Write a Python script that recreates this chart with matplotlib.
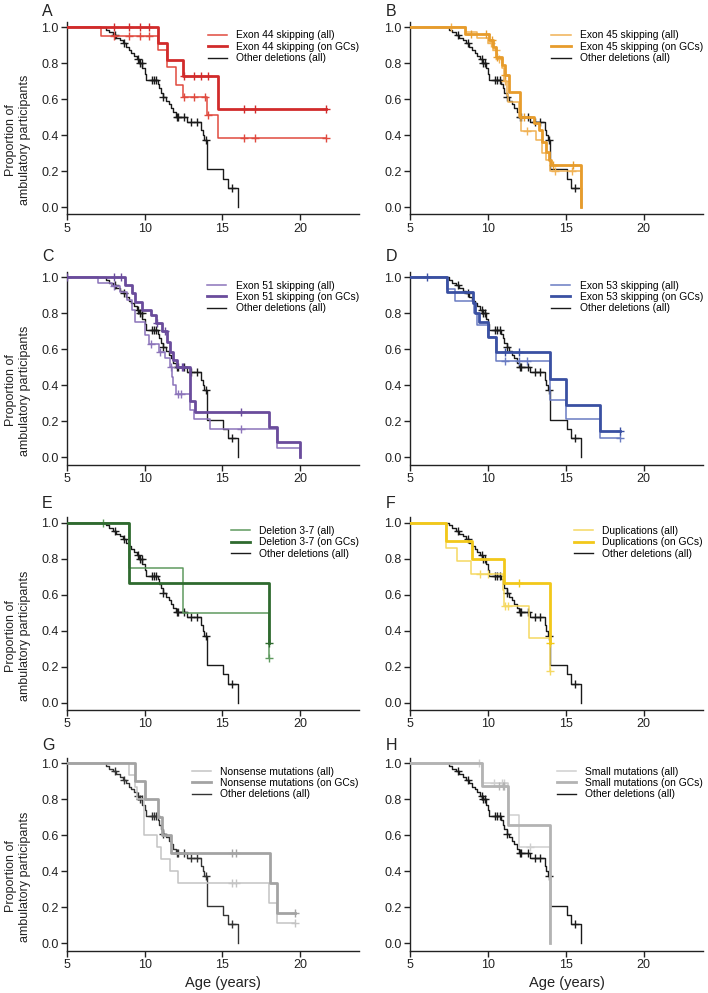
import numpy as np
import matplotlib
matplotlib.use('Agg')
import matplotlib.pyplot as plt

plt.rcParams['font.family'] = ['Liberation Sans', 'DejaVu Sans']

# ---------------- data (Kaplan-Meier step curves) ----------------
# reference group: Other deletions (all)
other_t = [7.5, 7.7, 7.95, 8.15, 8.4, 8.6, 8.8, 9.0, 9.15, 9.3, 9.5, 9.65, 9.85, 10.0, 10.1,
           10.85, 10.95, 11.05, 11.2, 11.35, 11.55, 11.7, 11.85, 12.0, 12.7, 13.65, 13.75, 13.85,
           14.0, 15.05, 15.35, 16.0]
other_s = [0.985, 0.97, 0.955, 0.94, 0.925, 0.91, 0.89, 0.87, 0.855, 0.84, 0.82, 0.80, 0.77, 0.74, 0.706,
           0.685, 0.66, 0.635, 0.61, 0.59, 0.57, 0.55, 0.525, 0.502, 0.474, 0.43, 0.40, 0.372,
           0.209, 0.157, 0.105, 0.0]
other_c = [8.1, 8.7, 9.6, 9.7, 9.8, 10.45, 10.6, 10.75, 11.2, 12.05, 12.15, 12.55, 13.0, 13.35, 13.95, 15.6]
other_end = 16.0

# A: Exon 44 skipping
ex44_all_t = [7.2, 10.85, 11.45, 12.0, 12.45, 14.0, 14.75]
ex44_all_s = [0.952, 0.87, 0.78, 0.678, 0.609, 0.509, 0.383]
ex44_all_c = [8.0, 9.0, 9.7, 10.3, 12.55, 13.2, 13.9, 14.1, 16.4, 17.1, 21.7]
ex44_all_end = 21.7
ex44_gc_t = [10.85, 11.45, 12.45, 14.75]
ex44_gc_s = [0.909, 0.818, 0.727, 0.545]
ex44_gc_c = [8.0, 9.0, 9.7, 10.3, 12.55, 13.2, 13.65, 14.1, 16.4, 17.1, 21.7]
ex44_gc_end = 21.7

# B: Exon 45 skipping
ex45_all_t = [8.6, 9.3, 10.0, 10.3, 10.6, 10.9, 11.05, 11.2, 11.3, 12.0, 12.1, 13.1, 13.45, 13.7, 14.0, 16.0]
ex45_all_s = [0.97, 0.94, 0.91, 0.87, 0.82, 0.77, 0.70, 0.62, 0.585, 0.50, 0.42, 0.37, 0.30, 0.26, 0.20, 0.0]
ex45_all_c = [7.6, 10.2, 10.5, 10.7, 11.1, 12.5, 14.3, 15.4]
ex45_all_end = 16.0
ex45_gc_t = [8.5, 10.05, 10.3, 10.5, 10.9, 11.1, 11.35, 12.05, 12.95, 13.25, 13.45, 13.7, 13.9, 14.05, 16.0]
ex45_gc_s = [0.961, 0.928, 0.89, 0.835, 0.789, 0.733, 0.64, 0.50, 0.465, 0.428, 0.363, 0.307, 0.261, 0.233, 0.0]
ex45_gc_c = [8.9, 9.9, 10.25, 10.6, 11.1, 12.3, 14.2, 15.45]
ex45_gc_end = 16.0

# C: Exon 51 skipping
ex51_all_t = [7.0, 7.9, 8.4, 8.85, 9.2, 9.4, 10.0, 10.3, 10.9, 11.3, 11.6, 11.75, 11.85, 12.0, 12.9, 13.2,
              14.2, 18.5, 20.0]
ex51_all_s = [0.966, 0.95, 0.92, 0.874, 0.82, 0.754, 0.68, 0.63, 0.587, 0.55, 0.50, 0.448, 0.40, 0.352, 0.26,
              0.21, 0.158, 0.053, 0.0]
ex51_all_c = [8.0, 10.4, 11.0, 11.7, 12.15, 12.35, 16.2]
ex51_all_end = 20.0
ex51_gc_t = [8.75, 9.2, 9.4, 9.8, 10.4, 10.7, 11.1, 11.45, 11.65, 11.85, 12.05, 12.93, 13.25, 18.0, 18.5, 20.0]
ex51_gc_s = [0.957, 0.91, 0.864, 0.82, 0.79, 0.744, 0.70, 0.642, 0.586, 0.54, 0.504, 0.31, 0.254, 0.17, 0.085,
             0.0]
ex51_gc_c = [5.0, 8.0, 8.5, 10.8, 11.3, 12.4, 12.5, 16.2]
ex51_gc_end = 20.0

# D: Exon 53 skipping
ex53_all_t = [7.4, 7.9, 9.1, 9.3, 10.0, 10.5, 14.0, 15.0, 17.2]
ex53_all_s = [0.933, 0.867, 0.8, 0.733, 0.667, 0.533, 0.32, 0.213, 0.107]
ex53_all_c = [11.1, 12.0, 12.5, 18.5]
ex53_all_end = 18.5
ex53_gc_t = [7.4, 9.05, 9.2, 9.4, 10.0, 10.5, 14.0, 15.0, 17.2]
ex53_gc_s = [0.917, 0.856, 0.80, 0.75, 0.667, 0.583, 0.437, 0.291, 0.146]
ex53_gc_c = [6.1, 11.1, 12.0, 18.5]
ex53_gc_end = 18.5

# E: Deletion 3-7
del37_all_t = [9.0, 12.45, 18.0]
del37_all_s = [0.75, 0.5, 0.25]
del37_all_c = [7.3, 18.0]
del37_all_end = 18.0
del37_gc_t = [9.0, 18.0]
del37_gc_s = [0.667, 0.333]
del37_gc_c = [18.0]
del37_gc_end = 18.0

# F: Duplications
dup_all_t = [7.3, 8.0, 8.9, 10.95, 11.05, 12.65, 14.0]
dup_all_s = [0.857, 0.786, 0.714, 0.625, 0.536, 0.357, 0.178]
dup_all_c = [9.5, 10.0, 11.1, 11.3, 14.0]
dup_all_end = 14.0
dup_gc_t = [7.3, 9.0, 11.0, 14.0]
dup_gc_s = [0.9, 0.8, 0.667, 0.333]
dup_gc_c = [12.0, 14.0]
dup_gc_end = 14.0

# G: Nonsense mutations
nons_all_t = [9.0, 9.35, 9.5, 9.95, 10.8, 11.05, 11.65, 12.15, 18.0, 18.5]
nons_all_s = [0.933, 0.867, 0.8, 0.6, 0.533, 0.467, 0.4, 0.333, 0.222, 0.111]
nons_all_c = [15.6, 15.9, 19.7]
nons_all_end = 19.7
nons_gc_t = [9.35, 10.05, 10.85, 11.1, 11.7, 18.05, 18.5]
nons_gc_s = [0.9, 0.8, 0.7, 0.6, 0.5, 0.333, 0.167]
nons_gc_c = [15.6, 15.9, 19.7]
nons_gc_end = 19.7

# H: Small mutations
small_all_t = [9.65, 11.3, 12.0, 14.0]
small_all_s = [0.889, 0.711, 0.533, 0.0]
small_all_c = [9.4, 10.4, 10.9, 11.05, 12.7]
small_all_end = 14.0
small_gc_t = [9.65, 11.3, 14.0]
small_gc_s = [0.875, 0.656, 0.0]
small_gc_c = [10.7, 10.95, 11.0]
small_gc_end = 14.0

panel_letters = ['A', 'B', 'C', 'D', 'E', 'F', 'G', 'H']
group_names = ['Exon 44 skipping', 'Exon 45 skipping', 'Exon 51 skipping', 'Exon 53 skipping',
               'Deletion 3-7', 'Duplications', 'Nonsense mutations', 'Small mutations']
thin_colors = ['#e04a3f', '#f0b255', '#8c74ba', '#6a7cc2', '#5f9a5f', '#f5d862', '#c4c4c4', '#cfcfcf']
thick_colors = ['#d12b2b', '#e79c2c', '#6a4c9c', '#3a50a2', '#2f6a2f', '#f2c81a', '#a3a3a3', '#b3b3b3']
black_colors = ['#1a1a1a'] * 6 + ['#333333', '#1a1a1a']

curves_all = [(ex44_all_t, ex44_all_s, ex44_all_c, ex44_all_end),
              (ex45_all_t, ex45_all_s, ex45_all_c, ex45_all_end),
              (ex51_all_t, ex51_all_s, ex51_all_c, ex51_all_end),
              (ex53_all_t, ex53_all_s, ex53_all_c, ex53_all_end),
              (del37_all_t, del37_all_s, del37_all_c, del37_all_end),
              (dup_all_t, dup_all_s, dup_all_c, dup_all_end),
              (nons_all_t, nons_all_s, nons_all_c, nons_all_end),
              (small_all_t, small_all_s, small_all_c, small_all_end)]
curves_gc = [(ex44_gc_t, ex44_gc_s, ex44_gc_c, ex44_gc_end),
             (ex45_gc_t, ex45_gc_s, ex45_gc_c, ex45_gc_end),
             (ex51_gc_t, ex51_gc_s, ex51_gc_c, ex51_gc_end),
             (ex53_gc_t, ex53_gc_s, ex53_gc_c, ex53_gc_end),
             (del37_gc_t, del37_gc_s, del37_gc_c, del37_gc_end),
             (dup_gc_t, dup_gc_s, dup_gc_c, dup_gc_end),
             (nons_gc_t, nons_gc_s, nons_gc_c, nons_gc_end),
             (small_gc_t, small_gc_s, small_gc_c, small_gc_end)]


def surv_at(t_ev, s_ev, tc):
    t_ev = np.asarray(t_ev, float)
    s_ev = np.asarray(s_ev, float)
    idx = np.searchsorted(t_ev, np.asarray(tc, float), side='right') - 1
    return np.where(idx >= 0, s_ev[np.clip(idx, 0, None)], 1.0)


def draw_curve(ax, t, s, c, end, color, lw, z, label):
    x = np.concatenate([[5.0], t, [end]])
    y = np.concatenate([[1.0], s, [s[-1]]])
    line, = ax.step(x, y, where='post', color=color, lw=lw, zorder=z, label=label)
    ax.plot(c, surv_at(t, s, c), ls='none', marker='+', ms=6, mew=1.0, color=color, zorder=z)
    return line


W, H = 708, 993
fig = plt.figure(figsize=(W / 100, H / 100), dpi=100)

col_left = [67, 410]
col_w = [292, 293]
row_bottom = [214.2, 464.5, 709.9, 950.5]
ax_h = 192.6
letter_base = [16, 261, 508, 750]

for i in range(8):
    r, cidx = divmod(i, 2)
    ax = fig.add_axes([col_left[cidx] / W, (H - row_bottom[r]) / H, col_w[cidx] / W, ax_h / H])
    l3 = draw_curve(ax, other_t, other_s, other_c, other_end, black_colors[i], 1.0, 2,
                    'Other deletions (all)')
    ta, sa, ca, ea = curves_all[i]
    l1 = draw_curve(ax, ta, sa, ca, ea, thin_colors[i], 1.1, 3, group_names[i] + ' (all)')
    tg, sg, cg, eg = curves_gc[i]
    l2 = draw_curve(ax, tg, sg, cg, eg, thick_colors[i], 2.0, 4, group_names[i] + ' (on GCs)')

    ax.set_xlim(5, 23.8)
    ax.set_ylim(-0.04, 1.03)
    ax.set_xticks([5, 10, 15, 20])
    ax.set_yticks([0.0, 0.2, 0.4, 0.6, 0.8, 1.0])
    ax.set_yticklabels(['%.1f' % v for v in [0.0, 0.2, 0.4, 0.6, 0.8, 1.0]])
    for sp in ['top', 'right']:
        ax.spines[sp].set_visible(False)
    for sp in ['left', 'bottom']:
        ax.spines[sp].set_color('#222222')
        ax.spines[sp].set_linewidth(1.0)
    ax.tick_params(direction='out', length=4, width=1.0, colors='#222222', labelsize=9, pad=2)

    ax.legend(handles=[l1, l2, l3], loc='upper right', bbox_to_anchor=(1.0, 0.955),
              frameon=False, fontsize=7.4, handlelength=1.85, handletextpad=0.9,
              labelspacing=0.14, borderaxespad=0, borderpad=0)

    fig.text((42 if cidx == 0 else 386) / W, (H - letter_base[r]) / H, panel_letters[i],
             fontsize=11.5, va='baseline', ha='left', color='#222222')

    if cidx == 0:
        fig.text(18 / W, (H - (row_bottom[r] - 74)) / H, 'Proportion of\nambulatory participants',
                 rotation=90, ha='center', va='center', fontsize=9, color='#222222',
                 multialignment='center', linespacing=1.15)
    if r == 3:
        ax.text(0.535, -0.17, 'Age (years)', transform=ax.transAxes, ha='center', va='center',
                fontsize=10.5, color='#222222')

fig.savefig('out.png', dpi=100)
